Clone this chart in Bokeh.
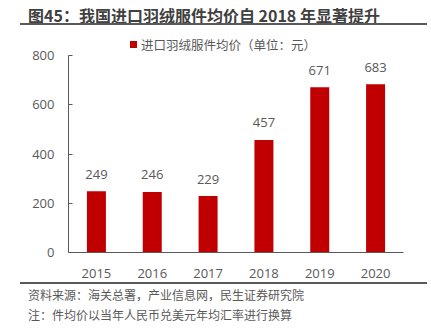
from bokeh.plotting import figure
from bokeh.models import ColumnDataSource, LabelSet, FactorRange, Div
from bokeh.layouts import column
from bokeh.core.properties import value
from bokeh.embed import file_html
from bokeh.resources import INLINE

years = ["2015", "2016", "2017", "2018", "2019", "2020"]
prices = [249, 246, 229, 457, 671, 683]
value_labels = ["249", "246", "229", "457", "671", "683"]
y_ticks = [0, 200, 400, 600, 800]
title_text = "图45：我国进口羽绒服件均价自 2018 年显著提升"
legend_text = "进口羽绒服件均价（单位：元）"
source_text = "资料来源：海关总署，产业信息网，民生证券研究院"
note_text = "注：件均价以当年人民币兑美元年均汇率进行换算"

CJK = "Noto Sans CJK SC"
NUM = "Open Sans"
GRAY = "#595959"
RED = "#C00000"

W = 431
TITLE_H = 44
FIG_H = 238
FOOT_H = 329 - TITLE_H - FIG_H

title_div = Div(width=W, height=TITLE_H, margin=0, styles={"overflow": "visible"}, text=(
    f'<div style="position:relative;width:{W}px;height:{TITLE_H}px;overflow:visible;">'
    f'<div style="position:absolute;left:28px;top:4px;font-family:\'{CJK}\';font-weight:bold;'
    f'font-size:16px;line-height:22px;color:#404040;white-space:nowrap;">{title_text}</div>'
    f'<div style="position:absolute;left:20px;top:23px;width:407px;height:1.5px;background:{GRAY};"></div>'
    f'<div style="position:absolute;left:130px;top:41px;width:7px;height:7px;background:{RED};"></div>'
    f'<div style="position:absolute;left:141px;top:36px;font-family:\'{CJK}\';font-size:12.5px;'
    f'line-height:17px;color:{GRAY};white-space:nowrap;">{legend_text}</div>'
    '</div>'))

p = figure(width=W, height=FIG_H, x_range=FactorRange(*years, range_padding=0), y_range=(0, 800),
           output_backend="svg", toolbar_location=None, margin=0,
           min_border_left=68, min_border_right=28, min_border_top=11, min_border_bottom=30)
p.outline_line_color = None
p.border_fill_alpha = 0
p.xgrid.grid_line_color = None
p.ygrid.grid_line_color = None

src = ColumnDataSource(dict(x=years, y=prices, t=value_labels))
p.vbar(x="x", top="y", width=0.34, source=src, color=RED, line_color=None)

labels = LabelSet(x="x", y="y", text="t", source=src, text_align="center", text_baseline="middle",
                  y_offset=17, text_font=value(NUM), text_font_size=value("13px"), text_color=GRAY)
p.add_layout(labels)

p.yaxis.ticker = y_ticks
p.yaxis.major_tick_in = 4
p.yaxis.major_tick_out = 0
p.yaxis.minor_tick_line_color = None
p.yaxis.major_label_standoff = 14
p.yaxis.axis_line_color = GRAY
p.yaxis.major_tick_line_color = GRAY
p.yaxis.major_label_text_font = NUM
p.yaxis.major_label_text_font_size = "13px"
p.yaxis.major_label_text_color = GRAY

p.xaxis.major_tick_line_color = None
p.xaxis.minor_tick_line_color = None
p.xaxis.axis_line_color = GRAY
p.xaxis.major_label_standoff = 10
p.xaxis.major_label_text_font = NUM
p.xaxis.major_label_text_font_size = "13px"
p.xaxis.major_label_text_color = GRAY

foot_div = Div(width=W, height=FOOT_H, margin=0, text=(
    f'<div style="position:relative;width:{W}px;height:{FOOT_H}px;">'
    f'<div style="position:absolute;left:20px;top:0px;width:407px;height:1.5px;background:{GRAY};"></div>'
    f'<div style="position:absolute;left:28px;top:3px;font-family:\'{CJK}\';font-size:12px;'
    f'line-height:20px;color:{GRAY};white-space:nowrap;">{source_text}<br>{note_text}</div>'
    '</div>'))

layout = column(title_div, p, foot_div, spacing=0, margin=0)
open("out.html", "w").write(file_html(layout, INLINE))
